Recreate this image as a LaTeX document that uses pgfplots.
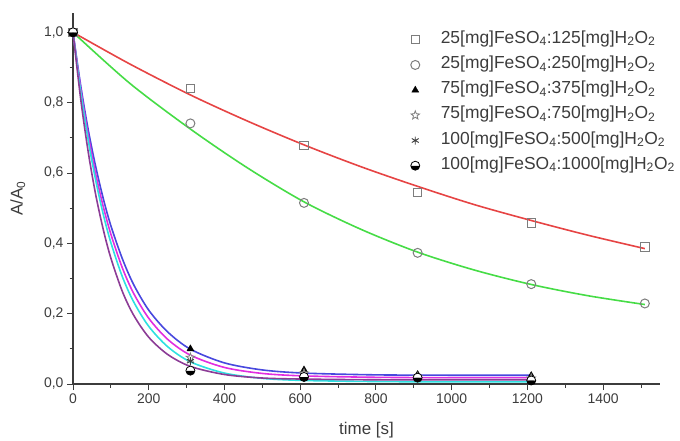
\documentclass[border=0pt]{standalone}
\usepackage{fontspec}
\setmainfont{Liberation Sans}
\usepackage{pgfplots}
\pgfplotsset{compat=1.18}
\usetikzlibrary{plotmarks}

\definecolor{cred}{RGB}{230,68,68}
\definecolor{cgreen}{RGB}{70,220,70}
\definecolor{cblue}{RGB}{72,72,222}
\definecolor{cmag}{RGB}{225,45,225}
\definecolor{ccyan}{RGB}{45,225,225}
\definecolor{cpurp}{RGB}{140,60,150}
\definecolor{axgray}{RGB}{60,60,60}
\definecolor{mkgray}{RGB}{125,125,125}

% open five-pointed star
\pgfdeclareplotmark{ostar}{%
  \pgfpathmoveto{\pgfpointpolar{90}{\pgfplotmarksize}}%
  \pgfpathlineto{\pgfpointpolar{126}{0.42\pgfplotmarksize}}%
  \pgfpathlineto{\pgfpointpolar{162}{\pgfplotmarksize}}%
  \pgfpathlineto{\pgfpointpolar{198}{0.42\pgfplotmarksize}}%
  \pgfpathlineto{\pgfpointpolar{234}{\pgfplotmarksize}}%
  \pgfpathlineto{\pgfpointpolar{270}{0.42\pgfplotmarksize}}%
  \pgfpathlineto{\pgfpointpolar{306}{\pgfplotmarksize}}%
  \pgfpathlineto{\pgfpointpolar{342}{0.42\pgfplotmarksize}}%
  \pgfpathlineto{\pgfpointpolar{18}{\pgfplotmarksize}}%
  \pgfpathlineto{\pgfpointpolar{54}{0.42\pgfplotmarksize}}%
  \pgfpathclose
  \pgfusepathqfillstroke}

\begin{document}
\begin{tikzpicture}
\useasboundingbox (0bp,0bp) rectangle (680bp,441bp);
\begin{axis}[
    at={(73bp,57bp)}, anchor=south west,
    scale only axis, width=587bp, height=371bp,
    xmin=0, xmax=1550, ymin=0, ymax=1.055,
    axis lines=left,
    axis line style={-, line width=1.2bp, axgray},
    clip=false,
    tick align=outside,
    major tick length=6bp, minor tick length=3.5bp,
    tick style={line width=1bp, axgray},
    xtick={0,200,400,600,800,1000,1200,1400},
    minor xtick={100,300,500,700,900,1100,1300,1500},
    ytick={0,0.2,0.4,0.6,0.8,1},
    minor ytick={0.1,0.3,0.5,0.7,0.9},
    /pgf/number format/assume math mode=true,
    tick label style={font=\fontsize{14}{16}\selectfont, text=axgray},
    xticklabel style={/pgf/number format/1000 sep={}},
    yticklabel style={/pgf/number format/.cd, fixed, fixed zerofill, precision=1, use comma},
    xlabel={time [s]},
    ylabel={A/A\textsubscript{0}},
    label style={font=\fontsize{17}{20}\selectfont, text=axgray},
    xlabel style={at={(axis description cs:0.5,-0.124)}, anchor=center},
    ylabel style={at={(axis description cs:-0.094,0.5)}, anchor=center},
    legend style={draw=none, fill=none, at={(axis description cs:0.570,0.962)},
        anchor=north west, font=\fontsize{17.5}{20}\selectfont, text=axgray,
        row sep=4.2bp, nodes={text height=12bp, text depth=5bp},
        /tikz/every odd column/.append style={column sep=19bp}},
    legend cell align=left,
]
% fitted curves
\addplot[forget plot, cred, line width=1.6bp, smooth] coordinates {
 (0,1) (150,0.91) (310,0.822) (460,0.748) (610,0.68) (760,0.618)
 (910,0.562) (1060,0.51) (1210,0.465) (1360,0.423) (1510,0.385)};
\addplot[forget plot, cgreen, line width=1.6bp, smooth] coordinates {
 (0,1) (150,0.855) (310,0.725) (460,0.615) (610,0.518) (760,0.44)
 (910,0.375) (1060,0.324) (1210,0.283) (1360,0.251) (1510,0.226)};
\addplot[forget plot, cblue, line width=1.6bp, smooth] coordinates {
 (0,1) (20,0.851) (40,0.724) (60,0.618) (80,0.527) (100,0.450) (130,0.357)
 (160,0.283) (200,0.210) (250,0.148) (310,0.099) (400,0.060) (500,0.040)
 (610,0.031) (800,0.026) (1000,0.025) (1210,0.025)};
\addplot[forget plot, cmag, line width=1.6bp, smooth] coordinates {
 (0,1) (20,0.842) (40,0.708) (60,0.597) (80,0.504) (100,0.426) (130,0.331)
 (160,0.258) (200,0.187) (250,0.127) (310,0.082) (400,0.047) (500,0.030)
 (610,0.023) (800,0.019) (1000,0.018) (1210,0.018)};
\addplot[forget plot, ccyan, line width=1.6bp, smooth] coordinates {
 (0,1) (20,0.833) (40,0.694) (60,0.579) (80,0.482) (100,0.402) (130,0.306)
 (160,0.234) (200,0.164) (250,0.106) (310,0.063) (400,0.031) (500,0.016)
 (610,0.010) (800,0.007) (1000,0.006) (1210,0.006)};
\addplot[forget plot, cpurp, line width=1.6bp, smooth] coordinates {
 (0,1) (20,0.813) (40,0.661) (60,0.538) (80,0.439) (100,0.358) (130,0.264)
 (160,0.196) (200,0.133) (250,0.084) (310,0.050) (400,0.027) (500,0.017)
 (610,0.014) (800,0.012) (1000,0.012) (1210,0.012)};

% measured points
\addplot[only marks, mark=square, mark size=4.2bp, mkgray, mark options={line width=1bp}]
 coordinates {(0,1) (310,0.84) (610,0.678) (910,0.545) (1210,0.458) (1510,0.39)};
\addlegendentry{25[mg]FeSO\textsubscript{4}:125[mg]H\textsubscript{2}O\textsubscript{2}}
\addplot[only marks, mark=o, mark size=4.5bp, mkgray, mark options={line width=1bp}]
 coordinates {(0,1) (310,0.741) (610,0.515) (910,0.373) (1210,0.284) (1510,0.229)};
\addlegendentry{25[mg]FeSO\textsubscript{4}:250[mg]H\textsubscript{2}O\textsubscript{2}}
\addplot[only marks, mark=triangle*, mark size=4bp, black]
 coordinates {(0,1) (310,0.10) (610,0.04) (910,0.027) (1210,0.024)};
\addlegendentry{75[mg]FeSO\textsubscript{4}:375[mg]H\textsubscript{2}O\textsubscript{2}}
\addplot[only marks, mark=ostar, mark size=4.5bp, mkgray, mark options={fill=white, line width=0.8bp}]
 coordinates {(0,1) (310,0.075) (610,0.03) (910,0.02) (1210,0.016)};
\addlegendentry{75[mg]FeSO\textsubscript{4}:750[mg]H\textsubscript{2}O\textsubscript{2}}
\addplot[only marks, mark=asterisk, mark size=4bp, axgray, mark options={line width=0.9bp}]
 coordinates {(0,1) (310,0.065) (610,0.025) (910,0.018) (1210,0.012)};
\addlegendentry{100[mg]FeSO\textsubscript{4}:500[mg]H\textsubscript{2}O\textsubscript{2}}
\addplot[only marks, mark=halfcircle*, mark size=4.5bp, black, mark options={fill=black, line width=0.8bp, rotate=180}]
 coordinates {(0,1) (310,0.038) (610,0.02) (910,0.018) (1210,0.01)};
\addlegendentry{100[mg]FeSO\textsubscript{4}:1000[mg]H\textsubscript{2}O\textsubscript{2}}
\end{axis}
\end{tikzpicture}
\end{document}
